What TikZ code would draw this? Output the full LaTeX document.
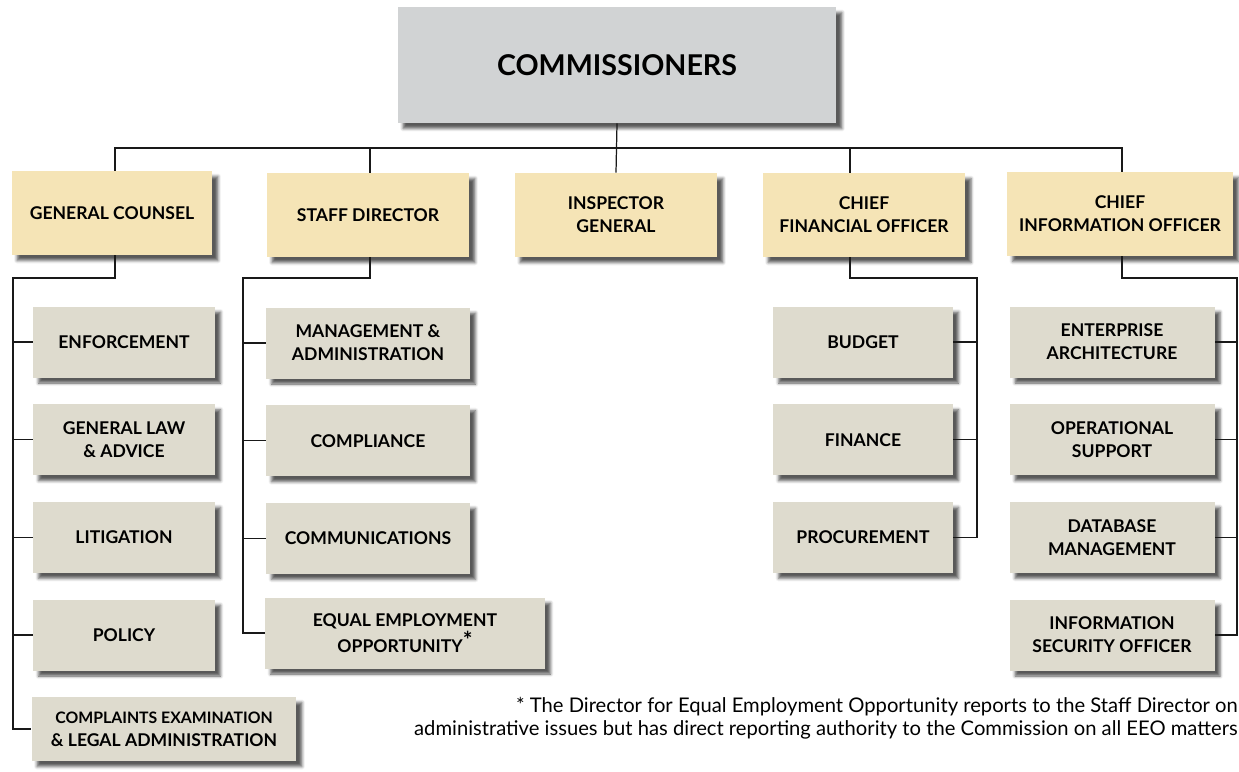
\documentclass[tikz,border=0pt]{standalone}
\usepackage{fontspec}
\setmainfont{Lato}
\usetikzlibrary{positioning}
\usetikzlibrary{shadows.blur}

\definecolor{topfill}{HTML}{D1D3D4}
\definecolor{headfill}{HTML}{F5E4B6}
\definecolor{unitfill}{HTML}{DEDBCE}

\begin{document}
\begin{tikzpicture}[x=0.02cm, y=-0.02cm,
    every node/.style={font=\bfseries\fontsize{10}{13}\selectfont, align=center, inner sep=0pt},
    shade box/.style={blur shadow={shadow xshift=0.11cm, shadow yshift=-0.11cm, shadow blur radius=0.06cm, shadow opacity=65}},
    topbox/.style={shade box, fill=topfill, minimum width=8.78cm, minimum height=2.32cm, font=\bfseries\fontsize{16.3}{19}\selectfont},
    headbox/.style={shade box, fill=headfill, minimum height=1.68cm},
    unitbox/.style={shade box, fill=unitfill, minimum height=1.42cm},
    link/.style={draw=black!90, line width=0.7pt},
    note/.style={font=\fontsize{11.5}{12.8}\selectfont, align=right}]
    \useasboundingbox (0,0) rectangle (1239,771);

    \node[topbox] (com) at (617,65) {COMMISSIONERS};

    % second level
    \node[headbox, minimum width=4.02cm] (gc)  at (112,213) {GENERAL COUNSEL};
    \node[headbox, minimum width=4.06cm] (sd)  at (368,215) {STAFF DIRECTOR};
    \node[headbox, minimum width=4.06cm] (ig)  at (616,215) {INSPECTOR\\GENERAL};
    \node[headbox, minimum width=4.06cm] (cfo) at (864,215) {CHIEF\\FINANCIAL OFFICER};
    \node[headbox, minimum width=4.52cm] (cio) at (1120,214) {CHIEF\\INFORMATION OFFICER};

    % general counsel
    \node[unitbox, minimum width=3.64cm] (enf) at (124,342) {ENFORCEMENT};
    \node[unitbox, minimum width=3.64cm, below=0.52cm of enf] (gla) {GENERAL LAW\\\& ADVICE};
    \node[unitbox, minimum width=3.64cm, below=0.52cm of gla] (lit) {LITIGATION};
    \node[unitbox, minimum width=3.64cm, below=0.52cm of lit] (pol) {POLICY};
    \node[unitbox, minimum width=5.3cm, minimum height=1.28cm] (cea) at (164,729)
        {\fontsize{9}{12}\selectfont COMPLAINTS EXAMINATION\\\& LEGAL ADMINISTRATION};

    % staff director
    \node[unitbox, minimum width=4.08cm] (mgt) at (368,343) {MANAGEMENT \&\\ADMINISTRATION};
    \node[unitbox, minimum width=4.08cm, below=0.52cm of mgt] (cmp) {COMPLIANCE};
    \node[unitbox, minimum width=4.08cm, below=0.52cm of cmp] (cmm) {COMMUNICATIONS};
    \node[unitbox, minimum width=5.6cm] (eeo) at (405,633)
        {EQUAL EMPLOYMENT\\OPPORTUNITY\raisebox{0.45ex}{\fontsize{13}{13}\selectfont *}};

    % chief financial officer
    \node[unitbox, minimum width=3.6cm] (bud) at (863,342) {BUDGET};
    \node[unitbox, minimum width=3.6cm, below=0.52cm of bud] (fin) {FINANCE};
    \node[unitbox, minimum width=3.6cm, below=0.52cm of fin] (pro) {PROCUREMENT};

    % chief information officer
    \node[unitbox, minimum width=4.1cm] (ea)  at (1112,342) {ENTERPRISE\\ARCHITECTURE};
    \node[unitbox, minimum width=4.1cm, below=0.52cm of ea]  (ops) {OPERATIONAL\\SUPPORT};
    \node[unitbox, minimum width=4.1cm, below=0.52cm of ops] (dbm) {DATABASE\\MANAGEMENT};
    \node[unitbox, minimum width=4.1cm, below=0.52cm of dbm] (iso) {INFORMATION\\SECURITY OFFICER};

    % connectors
    \coordinate (bus) at (617,148);
    \coordinate (gcrail)  at (13,278);
    \coordinate (sdrail)  at (243,278);
    \coordinate (cforail) at (977,278);
    \coordinate (ciorail) at (1237,278);

    \draw[link] (com.south) -- (ig.north);
    \draw[link] ([xshift=0.06cm]gc.north) |- (bus) -| ([xshift=0.04cm]cio.north);
    \draw[link] ([xshift=0.04cm]sd.north) -- ([xshift=0.04cm]sd.north |- bus);
    \draw[link] ([xshift=-0.28cm]cfo.north) -- ([xshift=-0.28cm]cfo.north |- bus);

    \draw[link] ([xshift=0.06cm]gc.south) |- (gcrail) |- (cea.west);
    \foreach \n in {enf,gla,lit,pol}
        \draw[link] (gcrail |- \n.west) -- (\n.west);
    \draw[link] ([xshift=0.04cm]sd.south) |- (sdrail) |- (eeo.west);
    \foreach \n in {mgt,cmp,cmm}
        \draw[link] (sdrail |- \n.west) -- (\n.west);
    \draw[link] ([xshift=-0.28cm]cfo.south) |- (cforail) |- (pro.east);
    \foreach \n in {bud,fin}
        \draw[link] (cforail |- \n.east) -- (\n.east);
    \draw[link] ([xshift=0.04cm]cio.south) |- (ciorail) |- (iso.east);
    \foreach \n in {ea,ops,dbm}
        \draw[link] (ciorail |- \n.east) -- (\n.east);

    \node[note, anchor=north east] (fn) at (1238,697)
        {* The Director for Equal Employment Opportunity reports to the Staff Director on\\
         administrative issues but has direct reporting authority to the Commission on all EEO matters};
\end{tikzpicture}
\end{document}
